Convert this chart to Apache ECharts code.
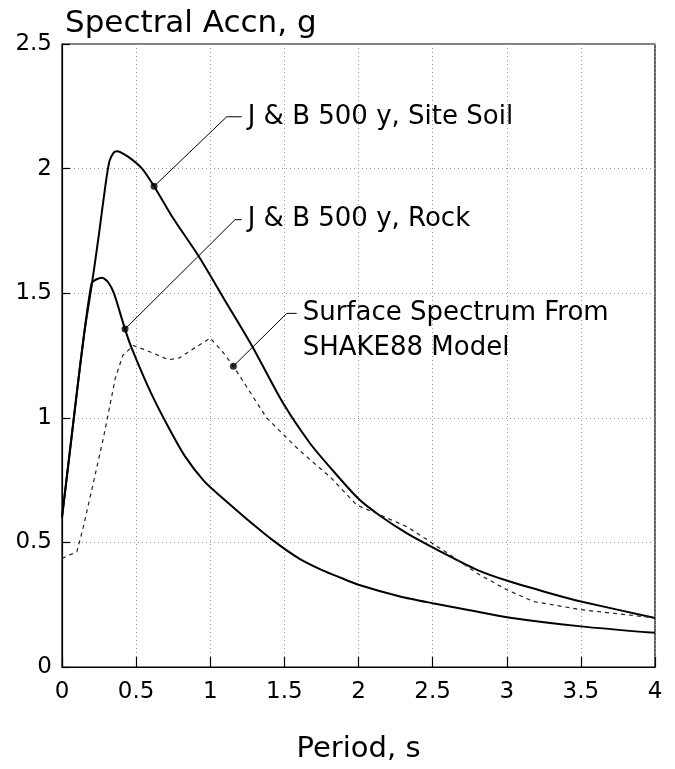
<!DOCTYPE html>
<html>
<head>
<meta charset="utf-8">
<script src="https://cdn.jsdelivr.net/npm/echarts@6/dist/echarts.min.js"></script>
<style>html,body{margin:0;padding:0;background:#fff;}#c{width:675px;height:769px;}</style>
</head>
<body>
<div id="c"></div>
<script>
// ---- Data (period s, spectral acceleration g) ----
var xTicks = ['0', '0.5', '1', '1.5', '2', '2.5', '3', '3.5', '4'];
var yTicks = ['0', '0.5', '1', '1.5', '2', '2.5'];

var siteSoil = [
  [0, 0.6], [0.05, 0.85], [0.1, 1.1], [0.15, 1.34], [0.2, 1.53], [0.25, 1.74],
  [0.29, 1.92], [0.32, 2.03], [0.35, 2.065], [0.37, 2.07], [0.44, 2.05],
  [0.54, 2.0], [0.62, 1.93], [0.74, 1.81], [0.92, 1.65], [1.1, 1.47],
  [1.28, 1.29], [1.49, 1.06], [1.67, 0.9], [1.81, 0.8], [2.0, 0.675],
  [2.15, 0.605], [2.33, 0.535], [2.5, 0.48], [2.8, 0.39], [3.0, 0.347],
  [3.29, 0.296], [3.5, 0.263], [4.0, 0.197]
];

var rock = [
  [0, 0.6], [0.05, 0.85], [0.1, 1.1], [0.15, 1.34], [0.2, 1.54], [0.23, 1.555],
  [0.27, 1.562], [0.31, 1.545], [0.35, 1.5], [0.425, 1.356], [0.47, 1.28],
  [0.6, 1.1], [0.72, 0.96], [0.83, 0.845], [0.96, 0.745], [1.1, 0.669],
  [1.25, 0.592], [1.43, 0.505], [1.6, 0.435], [1.75, 0.39], [1.88, 0.358],
  [2.0, 0.33], [2.28, 0.283], [2.5, 0.256], [2.75, 0.228], [3.0, 0.2],
  [3.5, 0.163], [4.0, 0.137]
];

var shake88 = [
  [0, 0.436], [0.1, 0.462], [0.144, 0.562], [0.21, 0.735], [0.28, 0.921],
  [0.36, 1.16], [0.41, 1.25], [0.48, 1.29], [0.56, 1.273], [0.72, 1.233],
  [0.79, 1.24], [1.0, 1.32], [1.09, 1.26], [1.156, 1.207], [1.38, 1.0],
  [1.6, 0.87], [1.81, 0.762], [1.99, 0.649], [2.15, 0.609], [2.33, 0.562],
  [2.5, 0.496], [2.62, 0.449], [2.8, 0.376], [3.0, 0.31], [3.18, 0.263],
  [3.5, 0.23], [4.0, 0.197]
];

// annotation leaders: marker point, elbow, end (data coords)
var soilLeader = [[0.621, 1.929], [1.111, 2.208], [1.212, 2.208]];
var rockLeader = [[0.425, 1.356], [1.167, 1.795], [1.212, 1.795]];
var shakeLeader = [[1.156, 1.207], [1.516, 1.419], [1.583, 1.419]];

var soilLabel = 'J & B 500 y, Site Soil';
var rockLabel = 'J & B 500 y, Rock';
var shakeLabel = 'Surface Spectrum From\nSHAKE88 Model';

var FONT = 'DejaVu Sans';

function leaderLine(pts) {
  return {
    type: 'line', data: pts, symbol: 'none', silent: true, z: 5,
    lineStyle: { color: '#000', width: 1 }
  };
}
function leaderMarker(pts) {
  return {
    type: 'scatter', data: [pts[0]], symbol: 'circle', symbolSize: 7, z: 6,
    itemStyle: { color: '#000' }, silent: true
  };
}
function leaderText(pts, text, extra) {
  return {
    type: 'scatter', data: [pts[pts.length - 1]], symbolSize: 0, z: 6, silent: true,
    itemStyle: { color: '#000', opacity: 1 },
    label: Object.assign({
      show: true, position: 'right', distance: 6, formatter: text, opacity: 1,
      color: '#000', fontFamily: FONT, fontSize: 26, lineHeight: 35
    }, extra || {})
  };
}

var chart = echarts.init(document.getElementById('c'), null, { renderer: 'canvas' });
chart.setOption({
  animation: false,
  backgroundColor: '#fff',
  title: {
    text: 'Spectral Accn, g', left: 60, top: 3,
    textStyle: { fontFamily: FONT, fontSize: 31, fontWeight: 'normal', color: '#000' }
  },
  grid: { left: 62, right: 20, top: 44, bottom: 98, show: true, borderColor: '#000', borderWidth: 1.2 },
  xAxis: {
    type: 'value', min: 0, max: 4, interval: 0.5,
    name: 'Period, s', nameLocation: 'middle', nameGap: 68,
    nameTextStyle: { fontFamily: FONT, fontSize: 29, color: '#000' },
    axisLine: { show: true, lineStyle: { color: '#000', width: 1.2 } },
    axisTick: { show: true, inside: true, length: 10, lineStyle: { color: '#000', width: 1.2 } },
    axisLabel: {
      fontFamily: FONT, fontSize: 23, color: '#000', margin: 14,
      formatter: function (v) { return xTicks[Math.round(v / 0.5)]; }
    },
    splitLine: { show: true, lineStyle: { color: '#999', width: 1, type: [1, 3] } }
  },
  yAxis: {
    type: 'value', min: 0, max: 2.5, interval: 0.5,
    axisLine: { show: true, lineStyle: { color: '#000', width: 1.2 } },
    axisTick: { show: true, inside: true, length: 8, lineStyle: { color: '#000', width: 1.2 } },
    axisLabel: {
      fontFamily: FONT, fontSize: 23, color: '#000', margin: 10,
      formatter: function (v) { return yTicks[Math.round(v / 0.5)]; }
    },
    splitLine: { show: true, lineStyle: { color: '#999', width: 1, type: [1, 3] } }
  },
  series: [
    { type: 'line', name: 'Site Soil', data: siteSoil, symbol: 'none', smooth: 0.25,
      lineStyle: { color: '#000', width: 2 }, z: 3 },
    { type: 'line', name: 'Rock', data: rock, symbol: 'none', smooth: 0.25,
      lineStyle: { color: '#000', width: 2 }, z: 3 },
    { type: 'line', name: 'SHAKE88', data: shake88, symbol: 'none', smooth: false,
      lineStyle: { color: '#222', width: 1.2, type: [4, 4] }, z: 3 },
    leaderLine(soilLeader), leaderMarker(soilLeader), leaderText(soilLeader, soilLabel),
    leaderLine(rockLeader), leaderMarker(rockLeader), leaderText(rockLeader, rockLabel),
    leaderLine(shakeLeader), leaderMarker(shakeLeader), leaderText(shakeLeader, shakeLabel, { offset: [0, 17] })
  ]
});
</script>
</body>
</html>
